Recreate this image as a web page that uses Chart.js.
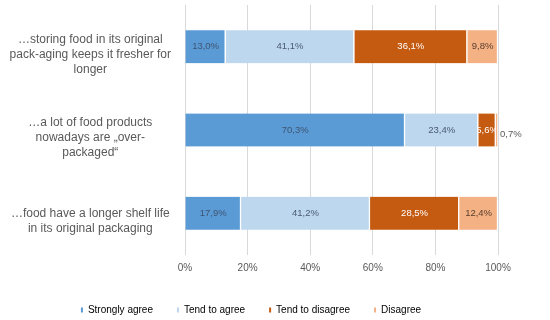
<!DOCTYPE html>
<html>
<head>
<meta charset="utf-8">
<script src="https://cdn.jsdelivr.net/npm/chart.js@4"></script>
<style>
html,body{margin:0;padding:0;background:#fff;}
#wrap{width:550px;height:320px;position:relative;}
</style>
</head>
<body>
<div id="wrap"><canvas id="c"></canvas></div>
<script>
const categories = [
  ["…storing food in its original", "pack-aging keeps it fresher for", "longer"],
  ["…a lot of food products", "nowadays are „over-", "packaged“"],
  ["…food have a longer shelf life", "in its original packaging"]
];
const seriesNames = ["Strongly agree", "Tend to agree", "Tend to disagree", "Disagree"];
const stronglyAgree = [13.0, 70.3, 17.9];
const tendToAgree = [41.1, 23.4, 41.2];
const tendToDisagree = [36.1, 5.6, 28.5];
const disagree = [9.8, 0.7, 12.4];
const xTicks = [0, 20, 40, 60, 80, 100];

const colors = ["#5B9BD5", "#BDD7EE", "#C55A11", "#F4B183"];
const labelColors = ["#3F5473", "#4A5A70", "#FFFFFF", "#5A4030"];

const fmt = v => v.toFixed(1).replace('.', ',') + '%';

const labelPlugin = {
  id: 'barLabels',
  afterDatasetsDraw(chart) {
    const ctx = chart.ctx;
    chart.data.datasets.forEach((ds, di) => {
      const meta = chart.getDatasetMeta(di);
      meta.data.forEach((bar, i) => {
        const v = ds.data[i];
        const left = Math.min(bar.base, bar.x), right = Math.max(bar.base, bar.x);
        const w = right - left;
        ctx.save();
        ctx.font = '9.5px "Liberation Sans", Arial, sans-serif';
        ctx.textBaseline = 'middle';
        if (w < 8) {
          ctx.fillStyle = '#595959';
          ctx.textAlign = 'left';
          ctx.fillText(fmt(v), right + 2, bar.y + 4);
        } else {
          ctx.beginPath();
          ctx.rect(left, bar.y - bar.height / 2, w, bar.height);
          ctx.clip();
          ctx.fillStyle = labelColors[di];
          ctx.textAlign = 'center';
          ctx.fillText(fmt(v), (left + right) / 2, bar.y);
        }
        ctx.restore();
      });
    });
  }
};

const dataArrays = [stronglyAgree, tendToAgree, tendToDisagree, disagree];

new Chart(document.getElementById('c'), {
  type: 'bar',
  data: {
    labels: categories,
    datasets: dataArrays.map((d, i) => ({
      label: seriesNames[i],
      data: d,
      backgroundColor: colors[i],
      borderColor: '#FFFFFF',
      borderWidth: {left: 0, right: 1.5, top: 0, bottom: 0},
      borderSkipped: false,
      barThickness: 33
    }))
  },
  options: {
    indexAxis: 'y',
    responsive: true,
    maintainAspectRatio: false,
    animation: false,
    layout: {padding: {left: 4, right: 52, top: 5, bottom: -5}},
    scales: {
      x: {
        stacked: true,
        min: 0, max: 100,
        afterBuildTicks: s => { s.ticks = xTicks.map(v => ({value: v})); },
        ticks: {
          callback: v => v + '%',
          color: '#595959',
          font: {family: '"Liberation Sans", Arial, sans-serif', size: 10},
          padding: 7
        },
        grid: {color: '#D9D9D9', drawTicks: false},
        border: {display: false}
      },
      y: {
        stacked: true,
        afterFit: s => { s.width = 181; s.paddingTop = 0; s.paddingBottom = 0; },
        ticks: {
          crossAlign: 'center',
          color: '#595959',
          labelOffset: 8,
          font: {family: '"Liberation Sans", Arial, sans-serif', size: 12, lineHeight: 1.25},
          padding: 6
        },
        grid: {display: false},
        border: {display: false}
      }
    },
    plugins: {
      legend: {
        position: 'bottom',
        labels: {
          color: '#595959',
          font: {family: '"Liberation Sans", Arial, sans-serif', size: 10},
          boxWidth: 2,
          boxHeight: 5,
          padding: 24,
          generateLabels: chart => chart.data.datasets.map((ds, i) => ({
            text: ds.label,
            fillStyle: colors[i],
            strokeStyle: colors[i],
            lineWidth: 0,
            datasetIndex: i
          }))
        }
      },
      tooltip: {enabled: false}
    }
  },
  plugins: [labelPlugin]
});
</script>
</body>
</html>
